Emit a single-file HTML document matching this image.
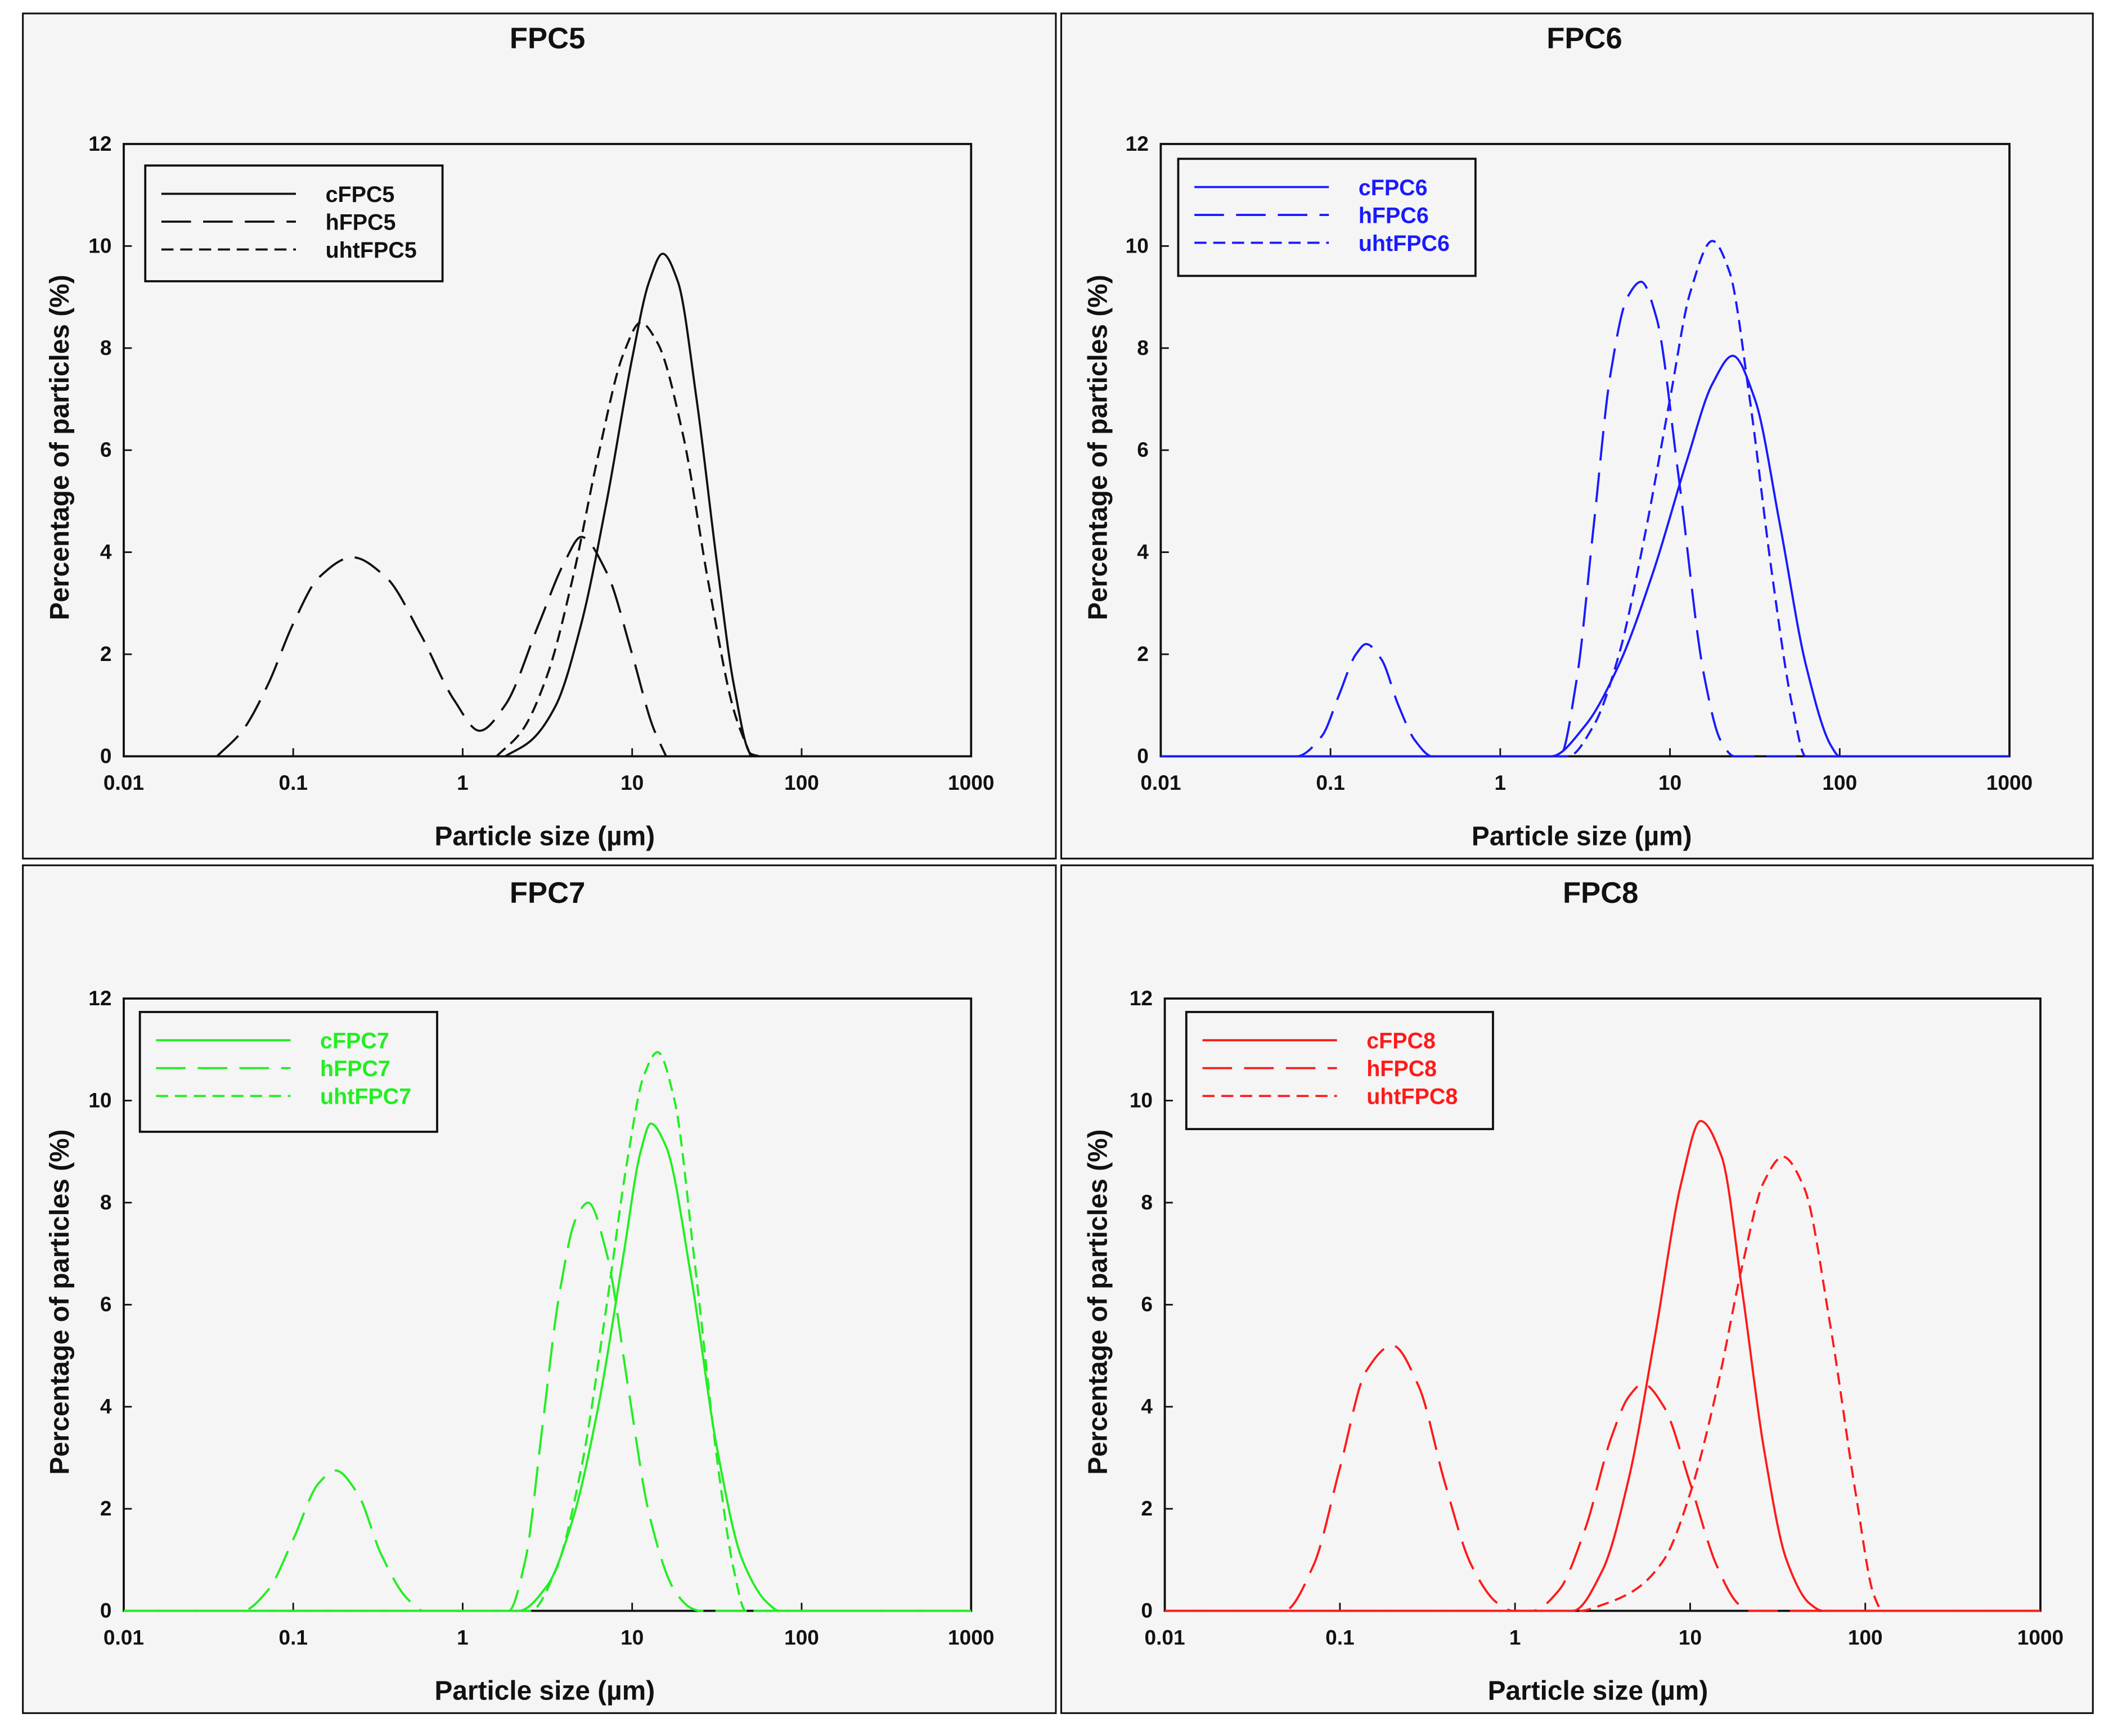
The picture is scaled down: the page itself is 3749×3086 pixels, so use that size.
<!DOCTYPE html>
<html><head><meta charset="utf-8"><style>
html,body{margin:0;padding:0;background:#fff}
svg{display:block}
text{font-family:"Liberation Sans",Arial,sans-serif;font-weight:bold;fill:#111}
</style></head><body>
<svg id="fig" width="3749" height="3086" viewBox="0 0 1568 1290" preserveAspectRatio="none" xmlns="http://www.w3.org/2000/svg"></svg>
<script>
// log10(particle size) breakpoints and percentage values
const xTickLabels = ["0.01","0.1","1","10","100","1000"];
const yTickLabels = ["0","2","4","6","8","10","12"];

const c5x = [0.25,0.4,0.55,0.7,0.85,1.0,1.1,1.18,1.27,1.38,1.5,1.6,1.7,1.75];
const c5y = [0,0.3,1.0,2.6,5.0,7.8,9.3,9.85,9.3,7.0,3.8,1.4,0.05,0];
const h5x = [-1.45,-1.3,-1.15,-1.0,-0.85,-0.65,-0.45,-0.25,-0.05,0.1,0.25,0.45,0.6,0.7,0.85,1.0,1.12,1.2];
const h5y = [0,0.5,1.4,2.6,3.5,3.9,3.5,2.4,1.1,0.5,1.0,2.6,3.8,4.3,3.6,2.0,0.6,0];
const u5x = [0.2,0.35,0.5,0.65,0.8,0.95,1.05,1.15,1.3,1.45,1.6,1.7];
const u5y = [0,0.5,1.6,3.5,5.9,7.9,8.5,8.1,6.3,3.4,0.9,0];

const c6x = [-2,0.3,0.5,0.7,0.9,1.1,1.25,1.37,1.5,1.65,1.8,1.95,2.0,3];
const c6y = [0,0,0.6,1.8,3.6,5.8,7.3,7.85,7.0,4.5,1.8,0.2,0,0];
const h6x = [-2,-1.2,-1.05,-0.95,-0.85,-0.79,-0.7,-0.6,-0.5,-0.4,0.35,0.45,0.55,0.65,0.75,0.83,0.92,1.05,1.2,1.3,1.38,3];
const h6y = [0,0,0.4,1.2,2.0,2.2,1.9,1.0,0.3,0,0,1.5,4.5,7.5,9.0,9.3,8.6,5.5,1.6,0.3,0,0];
const u6x = [-2,0.4,0.55,0.7,0.85,1.0,1.12,1.25,1.35,1.47,1.6,1.72,1.8,3];
const u6y = [0,0,0.6,2.0,4.3,7.0,9.1,10.1,9.5,7.0,3.6,1.0,0,0];

const c7x = [-2,0.33,0.5,0.65,0.8,0.95,1.05,1.11,1.2,1.35,1.5,1.65,1.8,1.87,3];
const c7y = [0,0,0.5,1.8,4.0,7.0,9.0,9.55,9.1,6.5,3.2,1.0,0.15,0,0];
const h7x = [-2,-1.3,-1.15,-1.0,-0.85,-0.75,-0.62,-0.48,-0.33,-0.23,0.27,0.37,0.47,0.57,0.67,0.74,0.85,0.98,1.1,1.25,1.35,1.4,3];
const h7y = [0,0,0.4,1.4,2.5,2.75,2.3,1.1,0.25,0,0,1.0,3.6,6.2,7.7,8.0,7.0,4.3,1.9,0.4,0.05,0,0];
const u7x = [-2,0.4,0.55,0.7,0.85,0.97,1.07,1.15,1.25,1.37,1.5,1.6,1.67,3];
const u7y = [0,0,0.8,2.8,6.0,8.8,10.5,10.95,10.0,6.8,3.0,0.8,0,0];

const c8x = [-2,0.33,0.5,0.65,0.8,0.95,1.06,1.18,1.3,1.42,1.55,1.68,1.76,3];
const c8y = [0,0,0.8,2.6,5.4,8.4,9.6,8.9,6.2,3.2,1.0,0.15,0,0];
const h8x = [-2,-1.32,-1.15,-1.0,-0.85,-0.7,-0.55,-0.4,-0.25,-0.1,-0.01,0.1,0.25,0.4,0.55,0.65,0.73,0.85,1.0,1.15,1.27,1.33,3];
const h8y = [0,0,0.9,2.8,4.7,5.2,4.4,2.5,0.9,0.15,0,0,0.4,1.6,3.4,4.2,4.45,4.0,2.5,0.9,0.15,0,0];
const u8x = [-2,0.37,0.5,0.68,0.85,1.0,1.15,1.3,1.42,1.53,1.65,1.8,1.95,2.05,2.1,3];
const u8y = [0,0,0.12,0.4,1.0,2.3,4.3,6.8,8.4,8.9,8.3,5.6,2.2,0.3,0,0];

const panels = [
 {title:"FPC5",color:"#111111",bx:17,by:10,bw:768,bh:628,px:92,py:107,pw:630,ph:455,tx:407,ty:28,lx:108,ly:123,lw:221,lh:86,xl:407,xlY:621,
  series:[["c",c5x,c5y],["h",h5x,h5y],["uht",u5x,u5y]]},
 {title:"FPC6",color:"#1a1aff",bx:789,by:10,bw:767,bh:628,px:863,py:107,pw:631,ph:455,tx:1178,ty:28,lx:876,ly:118,lw:221,lh:87,xl:1178,xlY:621,
  series:[["c",c6x,c6y],["h",h6x,h6y],["uht",u6x,u6y]]},
 {title:"FPC7",color:"#22ee22",bx:17,by:643,bw:768,bh:630,px:92,py:742,pw:630,ph:455,tx:407,ty:663,lx:104,ly:752,lw:221,lh:89,xl:407,xlY:1256,
  series:[["c",c7x,c7y],["h",h7x,h7y],["uht",u7x,u7y]]},
 {title:"FPC8",color:"#ff1a1a",bx:789,by:643,bw:767,bh:630,px:866,py:742,pw:651,ph:455,tx:1190,ty:663,lx:882,ly:752,lw:228,lh:87,xl:1190,xlY:1256,
  series:[["c",c8x,c8y],["h",h8x,h8y],["uht",u8x,u8y]]}
];
const dashes = {c:"", h:"22 9", uht:"9 5"};
const NS="http://www.w3.org/2000/svg";
const svg=document.getElementById('fig');
function mk(tag,attrs,parent){const e=document.createElementNS(NS,tag);for(const k in attrs)e.setAttribute(k,attrs[k]);(parent||svg).appendChild(e);return e;}
function txt(s,attrs,parent){const e=mk('text',attrs,parent);e.textContent=s;return e;}

function monotonePath(pts){
  const n=pts.length;
  const dx=[],s=[];
  for(let i=0;i<n-1;i++){dx[i]=pts[i+1][0]-pts[i][0];s[i]=(pts[i+1][1]-pts[i][1])/dx[i];}
  const m=new Array(n);
  m[0]=s[0];m[n-1]=s[n-2];
  for(let i=1;i<n-1;i++){
    if(s[i-1]*s[i]<=0)m[i]=0;
    else{const w1=2*dx[i]+dx[i-1],w2=dx[i]+2*dx[i-1];m[i]=(w1+w2)/(w1/s[i-1]+w2/s[i]);}
  }
  let d=`M${pts[0][0]},${pts[0][1]}`;
  for(let i=0;i<n-1;i++){
    const h=dx[i]/3;
    d+=` C${pts[i][0]+h},${pts[i][1]+m[i]*h} ${pts[i+1][0]-h},${pts[i+1][1]-m[i+1]*h} ${pts[i+1][0]},${pts[i+1][1]}`;
  }
  return d;
}

panels.forEach(p=>{
  const g=mk('g',{});
  
  
  const bg=mk('rect',{x:p.bx,y:p.by,width:p.bw,height:p.bh,fill:'#f5f5f5',stroke:'#111','stroke-width':1.3},g);
  
  
  const t=txt(p.title,{x:p.tx,y:p.ty+8,'text-anchor':'middle','font-size':22},g);
  
  
  const X=v=>p.px+(v+2)/5*p.pw;
  const Y=v=>p.py+p.ph-v/12*p.ph;
  const frame=mk('rect',{x:p.px,y:p.py,width:p.pw,height:p.ph,fill:'none',stroke:'#111','stroke-width':1.6},g);
  
  
  xTickLabels.forEach((lab,i)=>{
    const x=X(i-2);
    mk('line',{x1:x,y1:Y(0),x2:x,y2:Y(0)-6,stroke:'#111','stroke-width':1.2},g);
    const e=txt(lab,{x:x,y:Y(0)+25,'text-anchor':'middle','font-size':15.5},g);
    
    
  });
  yTickLabels.forEach((lab,i)=>{
    const y=Y(+lab);
    mk('line',{x1:p.px,y1:y,x2:p.px+6,y2:y,stroke:'#111','stroke-width':1.2},g);
    const e=txt(lab,{x:p.px-9,y:y+5,'text-anchor':'end','font-size':15.5},g);
    
    
  });
  const xt=txt("Particle size (µm)",{x:p.xl-2,y:p.xlY+7,'text-anchor':'middle','font-size':20},g);
  
  
  const cy=p.py+p.ph/2-2;
  const yt=txt("Percentage of particles (%)",{x:p.bx+27,y:cy+7,'text-anchor':'middle','font-size':20,transform:`rotate(-90 ${p.bx+27} ${cy})`},g);
  
  
  p.series.forEach(([k,xs,ys])=>{
    const pts=xs.map((v,i)=>[X(v),Y(ys[i])]);
    const path=mk('path',{d:monotonePath(pts),fill:'none',stroke:p.color,'stroke-width':1.6,'stroke-dasharray':dashes[k]},g);
    
    
  });
  const lg=mk('g',{},g);
  
  
  mk('rect',{x:p.lx,y:p.ly,width:p.lw,height:p.lh,fill:'#f5f5f5',stroke:'#111','stroke-width':1.6},lg);
  p.series.forEach(([k],i)=>{
    const yy=p.ly+21+i*20.7;
    mk('line',{x1:p.lx+12,y1:yy,x2:p.lx+112,y2:yy,stroke:p.color,'stroke-width':1.6,'stroke-dasharray':dashes[k]},lg);
    const e=txt(k+p.title,{x:p.lx+134,y:yy+6,'font-size':16.5,fill:p.color},lg);
    e.style.fill=p.color;
    
    
  });
});
</script>
</body></html>
